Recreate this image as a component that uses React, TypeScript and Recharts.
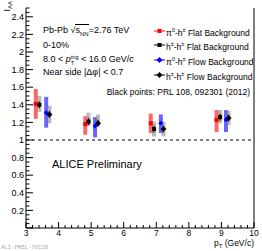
import React from 'react';
import { ComposedChart, Scatter, XAxis, YAxis, ErrorBar, ReferenceLine } from 'recharts';

// pi0-h flat background (red)
const ptPi0Flat = [3.3, 4.82, 6.83, 8.85];
const iaaPi0Flat = [1.41, 1.18, 1.19, 1.23];
const statPi0Flat = [0.02, 0.02, 0.02, 0.02];
const sysLoPi0Flat = [0.17, 0.12, 0.11, 0.14];
const sysHiPi0Flat = [0.17, 0.09, 0.11, 0.11];

// h-h flat background (black square)
const ptHFlat = [3.41, 4.92, 6.93, 8.96];
const iaaHFlat = [1.4, 1.21, 1.125, 1.26];
const statHFlat = [0.04, 0.04, 0.04, 0.04];
const sysLoHFlat = [0.08, 0.05, 0.085, 0.07];
const sysHiHFlat = [0.1, 0.1, 0.085, 0.08];

// pi0-h flow background (blue)
const ptPi0Flow = [3.62, 5.12, 7.14, 9.14];
const iaaPi0Flow = [1.31, 1.16, 1.19, 1.23];
const statPi0Flow = [0.02, 0.02, 0.02, 0.02];
const sysLoPi0Flow = [0.17, 0.13, 0.11, 0.14];
const sysHiPi0Flow = [0.18, 0.1, 0.1, 0.11];

// h-h flow background (black diamond)
const ptHFlow = [3.72, 5.21, 7.22, 9.22];
const iaaHFlow = [1.29, 1.19, 1.125, 1.25];
const statHFlow = [0.04, 0.04, 0.04, 0.04];
const sysLoHFlow = [0.1, 0.03, 0.085, 0.08];
const sysHiHFlow = [0.1, 0.1, 0.085, 0.08];

const xMajorLabels = [3, 4, 5, 6, 7, 8, 9, 10];
const yMajorLabels = [0.2, 0.4, 0.6, 0.8, 1, 1.2, 1.4, 1.6, 1.8, 2, 2.2, 2.4];

const xTicks: number[] = [];
for (let i = 0; i <= 35; i++) xTicks.push(Math.round((3 + i * 0.2) * 10) / 10);
const yTicks: number[] = [];
for (let i = 0; i <= 50; i++) yTicks.push(Math.round(i * 5) / 100);

const build = (pt: number[], v: number[], st: number[], lo: number[], hi: number[]) =>
  pt.map((x, i) => ({ x, y: v[i], stat: st[i], sys: [lo[i], hi[i]] }));

const dPi0Flat = build(ptPi0Flat, iaaPi0Flat, statPi0Flat, sysLoPi0Flat, sysHiPi0Flat);
const dHFlat = build(ptHFlat, iaaHFlat, statHFlat, sysLoHFlat, sysHiHFlat);
const dPi0Flow = build(ptPi0Flow, iaaPi0Flow, statPi0Flow, sysLoPi0Flow, sysHiPi0Flow);
const dHFlow = build(ptHFlow, iaaHFlow, statHFlow, sysLoHFlow, sysHiHFlow);

const FONT = '"Liberation Sans", Arial, Helvetica, sans-serif';

const isIn = (v: number, arr: number[]) => arr.some((a) => Math.abs(a - v) < 1e-6);

const YTick = (props: any) => {
  const { x, y, payload } = props;
  const v = payload.value;
  const major = isIn(v, yMajorLabels) || Math.abs(v) < 1e-6;
  return (
    <g>
      <line x1={x} x2={x + (major ? 7 : 3.5)} y1={y} y2={y} stroke="#000" strokeWidth={1} />
      {isIn(v, yMajorLabels) && (
        <text x={x - 2} y={y + 3.2} textAnchor="end" fontSize={9} fontFamily={FONT} fill="#000">
          {String(v)}
        </text>
      )}
    </g>
  );
};

const XTick = (props: any) => {
  const { x, y, payload } = props;
  const v = payload.value;
  const major = isIn(v, xMajorLabels);
  return (
    <g>
      <line x1={x} x2={x} y1={y} y2={y - (major ? 6 : 3)} stroke="#000" strokeWidth={1} />
      {major && (
        <text x={x} y={y + 8} textAnchor="middle" fontSize={8.5} fontFamily={FONT} fill="#000">
          {String(v)}
        </text>
      )}
    </g>
  );
};

const square = (color: string, s: number) => (p: any) => (
  <rect x={p.cx - s / 2} y={p.cy - s / 2} width={s} height={s} fill={color} />
);
const diamond = (color: string, s: number) => (p: any) => (
  <polygon
    points={`${p.cx},${p.cy - s / 2} ${p.cx + s / 2},${p.cy} ${p.cx},${p.cy + s / 2} ${p.cx - s / 2},${p.cy}`}
    fill={color}
  />
);

const abs = (left: number, top: number, extra: React.CSSProperties = {}): React.CSSProperties => ({
  position: 'absolute',
  left,
  top,
  whiteSpace: 'nowrap',
  fontFamily: FONT,
  color: '#000',
  ...extra,
});

const LegendItem = ({ top, color, kind, children }: any) => (
  <div style={abs(154, top, { fontSize: 8.5, lineHeight: '10px', display: 'flex', alignItems: 'center' })}>
    <svg width={11} height={8} style={{ marginRight: 1 }}>
      <line x1={0} x2={11} y1={4} y2={4} stroke={color} strokeWidth={1} />
      {kind === 'square' ? (
        <rect x={3.5} y={2} width={4} height={4} fill={color} />
      ) : (
        <polygon points="5.5,1 8.5,4 5.5,7 2.5,4" fill={color} />
      )}
    </svg>
    <span>{children}</span>
  </div>
);

export default function App() {
  return (
    <div style={{ position: 'absolute', left: 0, top: 0, width: 262, height: 251, background: '#fff', overflow: 'hidden' }}>
      <ComposedChart width={262} height={251} margin={{ top: 8, right: 8, bottom: 0, left: 0 }}>
        <XAxis
          type="number"
          dataKey="x"
          domain={[3, 10]}
          ticks={xTicks}
          interval={0}
          tickSize={0}
          tickMargin={0}
          tickLine={false}
          tick={<XTick />}
          height={23}
          axisLine={{ stroke: '#000' }}
          allowDataOverflow
        />
        <YAxis
          type="number"
          dataKey="y"
          domain={[0, 2.5]}
          ticks={yTicks}
          interval={0}
          tickSize={0}
          tickMargin={0}
          tickLine={false}
          tick={<YTick />}
          width={26}
          axisLine={{ stroke: '#000' }}
          allowDataOverflow
        />
        <ReferenceLine x={10} stroke="#000" strokeWidth={1} />
        <ReferenceLine y={1} stroke="#000" strokeWidth={1} strokeDasharray="3 3" />
        <Scatter data={dPi0Flat} isAnimationActive={false} shape={square('#ff0000', 4)}>
          <ErrorBar dataKey="sys" direction="y" width={0} strokeWidth={4} stroke="rgba(255,0,0,0.6)" isAnimationActive={false} />
          <ErrorBar dataKey="stat" direction="y" width={0} strokeWidth={1} stroke="#ff0000" isAnimationActive={false} />
        </Scatter>
        <Scatter data={dHFlat} isAnimationActive={false} shape={square('#000000', 4)}>
          <ErrorBar dataKey="sys" direction="y" width={0} strokeWidth={4} stroke="rgba(120,120,120,0.5)" isAnimationActive={false} />
          <ErrorBar dataKey="stat" direction="y" width={0} strokeWidth={1} stroke="#000" isAnimationActive={false} />
        </Scatter>
        <Scatter data={dPi0Flow} isAnimationActive={false} shape={diamond('#0000ff', 5)}>
          <ErrorBar dataKey="sys" direction="y" width={0} strokeWidth={4} stroke="rgba(0,0,255,0.6)" isAnimationActive={false} />
          <ErrorBar dataKey="stat" direction="y" width={0} strokeWidth={1} stroke="#0000ff" isAnimationActive={false} />
        </Scatter>
        <Scatter data={dHFlow} isAnimationActive={false} shape={diamond('#000000', 6)}>
          <ErrorBar dataKey="sys" direction="y" width={0} strokeWidth={4} stroke="rgba(120,120,120,0.5)" isAnimationActive={false} />
          <ErrorBar dataKey="stat" direction="y" width={0} strokeWidth={1} stroke="#000" isAnimationActive={false} />
        </Scatter>
      </ComposedChart>

      {/* Y axis title */}
      <div
        style={abs(0, 3.5, {
          width: 15,
          height: 9,
          fontSize: 9,
          lineHeight: '9px',
          textAlign: 'right',
          transform: 'rotate(-90deg)',
          transformOrigin: '50% 50%',
        })}
      >
        I<span style={{ fontSize: 6, position: 'relative', top: 2 }}>AA</span>
      </div>

      {/* X axis title */}
      <div style={abs(0, 238.5, { width: 254, textAlign: 'right', fontSize: 8.5, lineHeight: '8px' })}>
        p<span style={{ fontSize: 6, position: 'relative', top: 2 }}>T</span> (GeV/c)
      </div>

      <div style={abs(43, 25, { fontSize: 9, lineHeight: '11px' })}>
        Pb-Pb √<span style={{ borderTop: '1px solid #000' }}>s<sub style={{ fontSize: 6 }}>NN</sub></span>=2.76 TeV
      </div>
      <div style={abs(43, 40, { fontSize: 9, lineHeight: '10px' })}>0-10%</div>
      <div style={abs(43, 53, { fontSize: 9, lineHeight: '12px' })}>
        8.0 &lt; <i>p</i>
        <span style={{ display: 'inline-block', verticalAlign: 'middle', fontSize: 5.5, lineHeight: '6px', textAlign: 'left' }}>
          trig<br />T
        </span>{' '}
        &lt; 16.0 GeV/<i>c</i>
      </div>
      <div style={abs(43, 67, { fontSize: 9, lineHeight: '10px' })}>Near side |Δφ| &lt; 0.7</div>

      <LegendItem top={25} color="#ff0000" kind="square">
        π<sup style={{ fontSize: 5.5 }}>0</sup>-h<sup style={{ fontSize: 5.5 }}>±</sup> Flat Background
      </LegendItem>
      <LegendItem top={39} color="#000000" kind="square">
        h<sup style={{ fontSize: 5.5 }}>±</sup>-h<sup style={{ fontSize: 5.5 }}>±</sup> Flat Background
      </LegendItem>
      <LegendItem top={54} color="#0000ff" kind="diamond">
        π<sup style={{ fontSize: 5.5 }}>0</sup>-h<sup style={{ fontSize: 5.5 }}>±</sup> Flow Background
      </LegendItem>
      <LegendItem top={69} color="#000000" kind="diamond">
        h<sup style={{ fontSize: 5.5 }}>±</sup>-h<sup style={{ fontSize: 5.5 }}>±</sup> Flow Background
      </LegendItem>

      <div style={abs(0, 87, { width: 250, textAlign: 'right', fontSize: 8.5, lineHeight: '10px' })}>
        Black points: PRL 108, 092301 (2012)
      </div>

      <div style={abs(52, 158, { fontSize: 11, lineHeight: '12px' })}>ALICE Preliminary</div>

      <div style={abs(1, 244, { fontSize: 5.6, lineHeight: '6px', color: '#aaa', fontFamily: '"DejaVu Sans Mono", monospace' })}>
        ALI-PREL-79138
      </div>
    </div>
  );
}
